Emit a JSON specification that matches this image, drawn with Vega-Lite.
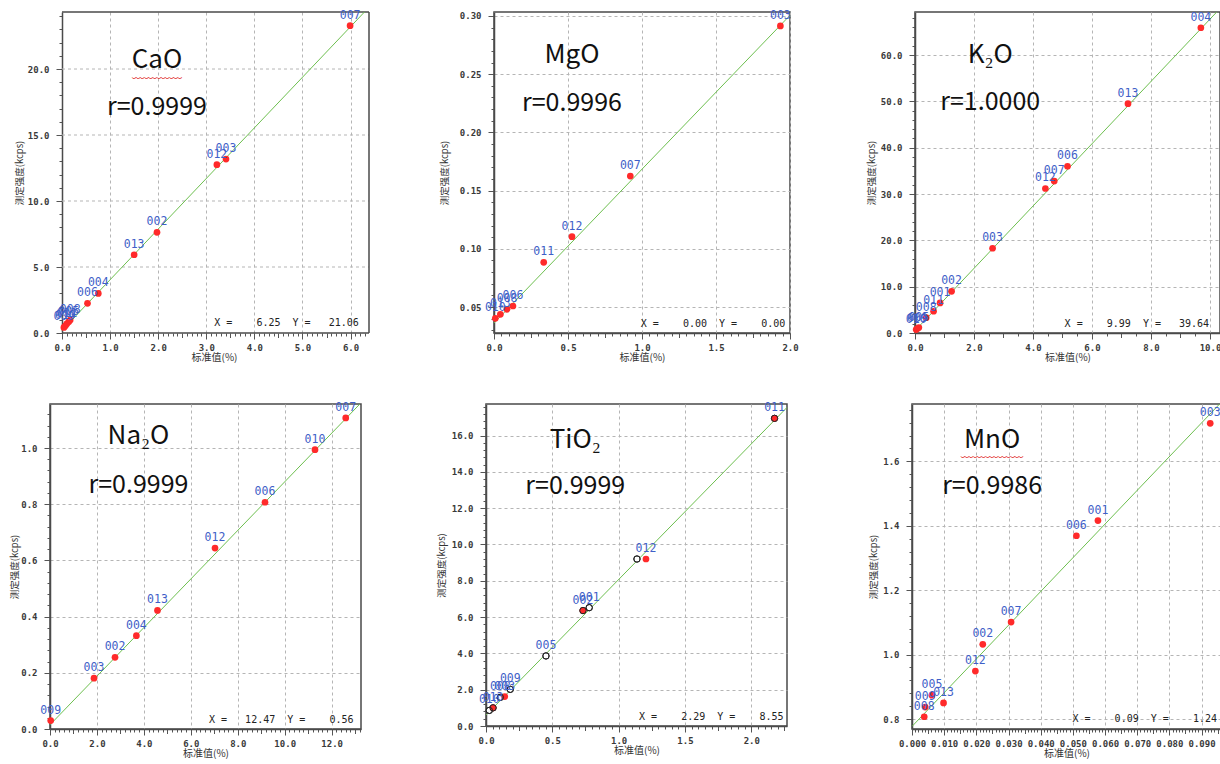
{
  "$schema": "https://vega.github.io/schema/vega-lite/v6.json",
  "background": "white",
  "padding": {"left": 8, "top": 9, "right": 0, "bottom": 0},
  "datasets": {
    "cao": [
      {"id": "007", "x": 5.99, "y": 23.28},
      {"id": "003", "x": 3.41, "y": 13.18},
      {"id": "012", "x": 3.22, "y": 12.75},
      {"id": "002", "x": 1.975, "y": 7.63},
      {"id": "013", "x": 1.5, "y": 5.93},
      {"id": "004", "x": 0.755, "y": 3.0},
      {"id": "006", "x": 0.53, "y": 2.25},
      {"id": "009", "x": 0.04, "y": 0.42},
      {"id": "010", "x": 0.07, "y": 0.55},
      {"id": "011", "x": 0.1, "y": 0.7},
      {"id": "005", "x": 0.14, "y": 0.85},
      {"id": "008", "x": 0.17, "y": 0.98}
    ],
    "cao_fit": [{"x": 0, "y": 0.2}, {"x": 6.5, "y": 25.13}],
    "mgo": [
      {"id": "003", "x": 1.935, "y": 0.2914},
      {"id": "007", "x": 0.921, "y": 0.1625},
      {"id": "012", "x": 0.527, "y": 0.1104},
      {"id": "011", "x": 0.336, "y": 0.0884},
      {"id": "010", "x": 0.009, "y": 0.0403},
      {"id": "013", "x": 0.043, "y": 0.0437},
      {"id": "008", "x": 0.088, "y": 0.048},
      {"id": "006", "x": 0.128, "y": 0.0509}
    ],
    "mgo_fit": [{"x": 0, "y": 0.0362}, {"x": 2.1, "y": 0.3138}],
    "k2o": [
      {"id": "004", "x": 9.69, "y": 65.9},
      {"id": "013", "x": 7.22, "y": 49.5},
      {"id": "006", "x": 5.17, "y": 36.0},
      {"id": "007", "x": 4.72, "y": 32.8},
      {"id": "012", "x": 4.42, "y": 31.2},
      {"id": "003", "x": 2.63, "y": 18.3},
      {"id": "002", "x": 1.24, "y": 9.0},
      {"id": "001", "x": 0.85, "y": 6.5},
      {"id": "011", "x": 0.63, "y": 4.7},
      {"id": "008", "x": 0.38, "y": 3.3},
      {"id": "010", "x": 0.04, "y": 0.73},
      {"id": "009", "x": 0.08, "y": 0.95},
      {"id": "005", "x": 0.13, "y": 1.17}
    ],
    "k2o_fit": [{"x": 0, "y": 0.5}, {"x": 10.6, "y": 71.8}],
    "na2o": [
      {"id": "007", "x": 12.6, "y": 1.107},
      {"id": "010", "x": 11.29, "y": 0.994},
      {"id": "006", "x": 9.16, "y": 0.807},
      {"id": "012", "x": 7.03, "y": 0.644},
      {"id": "013", "x": 4.58, "y": 0.422},
      {"id": "004", "x": 3.68, "y": 0.332},
      {"id": "002", "x": 2.77, "y": 0.255},
      {"id": "003", "x": 1.875, "y": 0.181},
      {"id": "009", "x": 0.03, "y": 0.03}
    ],
    "na2o_fit": [{"x": 0, "y": 0.015}, {"x": 13.6, "y": 1.191}],
    "tio2": [
      {"s": "o", "lab": "", "x": 2.175, "y": 16.95},
      {"s": "o", "lab": "", "x": 1.138, "y": 9.2},
      {"s": "o", "lab": "001", "x": 0.778, "y": 6.52},
      {"s": "o", "lab": "", "x": 0.731, "y": 6.36},
      {"s": "o", "lab": "005", "x": 0.452, "y": 3.86},
      {"s": "o", "lab": "009", "x": 0.183, "y": 2.02},
      {"s": "o", "lab": "008", "x": 0.108, "y": 1.58},
      {"s": "o", "lab": "", "x": 0.053, "y": 1.0},
      {"s": "o", "lab": "010", "x": 0.025, "y": 0.86},
      {"s": "r", "lab": "011", "x": 2.175, "y": 16.95},
      {"s": "r", "lab": "012", "x": 1.206, "y": 9.2},
      {"s": "r", "lab": "002", "x": 0.731, "y": 6.36},
      {"s": "r", "lab": "003", "x": 0.141, "y": 1.62},
      {"s": "r", "lab": "013", "x": 0.053, "y": 1.0}
    ],
    "tio2_fit": [{"x": 0, "y": 0.6}, {"x": 2.4, "y": 18.53}],
    "mno": [
      {"id": "003", "x": 0.0927, "y": 1.718},
      {"id": "001", "x": 0.0578, "y": 1.416},
      {"id": "006", "x": 0.0511, "y": 1.369},
      {"id": "007", "x": 0.0308, "y": 1.101},
      {"id": "002", "x": 0.022, "y": 1.032},
      {"id": "012", "x": 0.0197, "y": 0.949},
      {"id": "013", "x": 0.0098, "y": 0.85},
      {"id": "005", "x": 0.0062, "y": 0.874},
      {"id": "009", "x": 0.0041, "y": 0.837},
      {"id": "008", "x": 0.0038, "y": 0.807}
    ],
    "mno_fit": [{"x": 0, "y": 0.777}, {"x": 0.1, "y": 1.824}]
  },
  "spacing": 38,
  "vconcat": [
    {
      "hconcat": [
        {
          "width": 319, "height": 321,
          "view": {"stroke": null},
          "data": {"name": "cao"},
          "encoding": {
            "x": {"field": "x", "type": "quantitative",
              "scale": {"domain": [-0.2495, 6.383], "nice": false, "zero": false},
              "axis": {"title": "标准值(%)", "domain": false, "titleX": 164,
                "values": [0,0.1,0.2,0.3,0.4,0.5,0.6,0.7,0.8,0.9,1,1.1,1.2,1.3,1.4,1.5,1.6,1.7,1.8,1.9,2,2.1,2.2,2.3,2.4,2.5,2.6,2.7,2.8,2.9,3,3.1,3.2,3.3,3.4,3.5,3.6,3.7,3.8,3.9,4,4.1,4.2,4.3,4.4,4.5,4.6,4.7,4.8,4.9,5,5.1,5.2,5.3,5.4,5.5,5.6,5.7,5.8,5.9,6,6.1,6.2,6.3],
                "labelExpr": "abs(datum.value-round(datum.value))<1e-6 ? format(datum.value,'.1f') : ''",
                "tickSize": {"condition": [{"test": "abs(datum.value-round(datum.value))<1e-6", "value": 6}, {"test": "abs(datum.value*2-round(datum.value*2))<1e-6", "value": 4.5}], "value": 3},
                "gridOpacity": {"condition": {"test": "abs(datum.value-round(datum.value))<1e-6 && datum.value > 0", "value": 1}, "value": 0}}},
            "y": {"field": "y", "type": "quantitative",
              "scale": {"domain": [0, 24.32], "nice": false, "zero": false},
              "axis": {"title": "测定强度(kcps)", "offset": -12, "grid": false,
                "values": [0,1,2,3,4,5,6,7,8,9,10,11,12,13,14,15,16,17,18,19,20,21,22,23,24],
                "labelExpr": "abs(datum.value/5-round(datum.value/5))<1e-6 ? format(datum.value,'.1f') : ''",
                "tickSize": {"condition": {"test": "abs(datum.value/5-round(datum.value/5))<1e-6", "value": 6}, "value": 3},
                "minExtent": 34, "maxExtent": 34, "titlePadding": 4}}
          },
          "layer": [
            {"transform": [{"filter": "datum.id == '007'"}], "mark": {"type": "rule", "color": "#b5b5b5", "strokeWidth": 1, "strokeDash": [3, 3]}, "encoding": {"x": {"datum": 0, "type": "quantitative"}, "x2": {"datum": 6.383}, "y": {"datum": 5, "type": "quantitative"}}},
            {"transform": [{"filter": "datum.id == '007'"}], "mark": {"type": "rule", "color": "#b5b5b5", "strokeWidth": 1, "strokeDash": [3, 3]}, "encoding": {"x": {"datum": 0, "type": "quantitative"}, "x2": {"datum": 6.383}, "y": {"datum": 10, "type": "quantitative"}}},
            {"transform": [{"filter": "datum.id == '007'"}], "mark": {"type": "rule", "color": "#b5b5b5", "strokeWidth": 1, "strokeDash": [3, 3]}, "encoding": {"x": {"datum": 0, "type": "quantitative"}, "x2": {"datum": 6.383}, "y": {"datum": 15, "type": "quantitative"}}},
            {"transform": [{"filter": "datum.id == '007'"}], "mark": {"type": "rule", "color": "#b5b5b5", "strokeWidth": 1, "strokeDash": [3, 3]}, "encoding": {"x": {"datum": 0, "type": "quantitative"}, "x2": {"datum": 6.383}, "y": {"datum": 20, "type": "quantitative"}}},
            {"transform": [{"filter": "datum.id == '007'"}], "mark": {"type": "rule", "color": "#4a4a4a", "strokeWidth": 1.5}, "encoding": {"x": {"datum": 0, "type": "quantitative"}, "x2": {"datum": 6.383}, "y": {"datum": 0, "type": "quantitative"}}},
            {"transform": [{"filter": "datum.id == '007'"}], "mark": {"type": "rule", "color": "#4a4a4a", "strokeWidth": 1.5}, "encoding": {"x": {"datum": 0, "type": "quantitative"}, "x2": {"datum": 6.383}, "y": {"datum": 24.32, "type": "quantitative"}}},
            {"transform": [{"filter": "datum.id == '007'"}], "mark": {"type": "rule", "color": "#4a4a4a", "strokeWidth": 1.5}, "encoding": {"x": {"datum": 6.383, "type": "quantitative"}, "y": {"datum": 0, "type": "quantitative"}, "y2": {"datum": 24.32}}},
            {"data": {"name": "cao_fit"}, "mark": {"type": "line", "clip": true, "color": "#6dbf4f", "strokeWidth": 1}},
            {"mark": {"type": "circle", "size": 45, "color": "#ff2a2a", "opacity": 1}},
            {"mark": {"type": "text", "dy": -10, "color": "#3f5fc8", "font": "DejaVu Sans Mono", "fontSize": 11.5}, "encoding": {"text": {"field": "id"}}},
            {"transform": [{"filter": "datum.id == '007'"}], "mark": {"type": "text", "font": "Noto Sans CJK SC", "fontSize": 26, "color": "#111"}, "encoding": {"text": {"value": "CaO"}, "x": {"datum": 1.975, "type": "quantitative"}, "y": {"datum": 20.7, "type": "quantitative"}}},
            {"transform": [{"filter": "datum.id == '007'"}], "mark": {"type": "text", "font": "Noto Sans CJK SC", "fontSize": 12.5, "color": "#e02020"}, "encoding": {"text": {"value": "﹏﹏﹏﹏"}, "x": {"datum": 1.975, "type": "quantitative"}, "y": {"datum": 19.62, "type": "quantitative"}}},
            {"transform": [{"filter": "datum.id == '007'"}], "mark": {"type": "text", "font": "Noto Sans CJK SC", "fontSize": 25, "color": "#111"}, "encoding": {"text": {"value": "r=0.9999"}, "x": {"datum": 1.975, "type": "quantitative"}, "y": {"datum": 17.1, "type": "quantitative"}}},
            {"transform": [{"filter": "datum.id == '007'"}], "mark": {"type": "text", "align": "right", "font": "DejaVu Sans Mono", "fontSize": 10, "color": "#222"}, "encoding": {"text": {"value": "X =\u00a0\u00a0\u00a0\u00a06.25\u00a0\u00a0Y =\u00a0\u00a0\u00a021.06"}, "x": {"datum": 6.17, "type": "quantitative"}, "y": {"datum": 0.76, "type": "quantitative"}}}
          ]
        },
        {
          "width": 296, "height": 321,
          "data": {"name": "mgo"},
          "encoding": {
            "x": {"field": "x", "type": "quantitative",
              "scale": {"domain": [0, 2.0], "nice": false, "zero": false},
              "axis": {"title": "标准值(%)",
                "values": [0,0.05,0.1,0.15,0.2,0.25,0.3,0.35,0.4,0.45,0.5,0.55,0.6,0.65,0.7,0.75,0.8,0.85,0.9,0.95,1,1.05,1.1,1.15,1.2,1.25,1.3,1.35,1.4,1.45,1.5,1.55,1.6,1.65,1.7,1.75,1.8,1.85,1.9,1.95,2],
                "labelExpr": "abs(datum.value*2-round(datum.value*2))<1e-6 ? format(datum.value,'.1f') : ''",
                "tickSize": {"condition": [{"test": "abs(datum.value*2-round(datum.value*2))<1e-6", "value": 6}, {"test": "abs(datum.value*4-round(datum.value*4))<1e-6", "value": 4.5}], "value": 3},
                "gridOpacity": {"condition": {"test": "abs(datum.value*2-round(datum.value*2))<1e-6", "value": 1}, "value": 0}}},
            "y": {"field": "y", "type": "quantitative",
              "scale": {"domain": [0.0277, 0.3034], "nice": false, "zero": false},
              "axis": {"title": "测定强度(kcps)",
                "values": [0.03,0.04,0.05,0.06,0.07,0.08,0.09,0.1,0.11,0.12,0.13,0.14,0.15,0.16,0.17,0.18,0.19,0.2,0.21,0.22,0.23,0.24,0.25,0.26,0.27,0.28,0.29,0.3],
                "labelExpr": "abs(datum.value*20-round(datum.value*20))<1e-6 ? format(datum.value,'.2f') : ''",
                "tickSize": {"condition": {"test": "abs(datum.value*20-round(datum.value*20))<1e-6", "value": 6}, "value": 3},
                "gridOpacity": {"condition": {"test": "abs(datum.value*20-round(datum.value*20))<1e-6", "value": 1}, "value": 0},
                "minExtent": 35, "maxExtent": 35, "titlePadding": 9.5}}
          },
          "layer": [
            {"data": {"name": "mgo_fit"}, "mark": {"type": "line", "clip": true, "color": "#6dbf4f", "strokeWidth": 1}},
            {"mark": {"type": "circle", "size": 45, "color": "#ff2a2a", "opacity": 1}},
            {"mark": {"type": "text", "dy": -10, "color": "#3f5fc8", "font": "DejaVu Sans Mono", "fontSize": 11.5}, "encoding": {"text": {"field": "id"}}},
            {"transform": [{"filter": "datum.id == '003'"}], "mark": {"type": "text", "font": "Noto Sans CJK SC", "fontSize": 26, "color": "#111"}, "encoding": {"text": {"value": "MgO"}, "x": {"datum": 0.527, "type": "quantitative"}, "y": {"datum": 0.2665, "type": "quantitative"}}},
            {"transform": [{"filter": "datum.id == '003'"}], "mark": {"type": "text", "font": "Noto Sans CJK SC", "fontSize": 25, "color": "#111"}, "encoding": {"text": {"value": "r=0.9996"}, "x": {"datum": 0.527, "type": "quantitative"}, "y": {"datum": 0.225, "type": "quantitative"}}},
            {"transform": [{"filter": "datum.id == '003'"}], "mark": {"type": "text", "align": "right", "font": "DejaVu Sans Mono", "fontSize": 10, "color": "#222"}, "encoding": {"text": {"value": "X =\u00a0\u00a0\u00a0\u00a00.00\u00a0\u00a0Y =\u00a0\u00a0\u00a0\u00a00.00"}, "x": {"datum": 1.968, "type": "quantitative"}, "y": {"datum": 0.0351, "type": "quantitative"}}}
          ]
        },
        {
          "width": 305, "height": 321,
          "data": {"name": "k2o"},
          "encoding": {
            "x": {"field": "x", "type": "quantitative",
              "scale": {"domain": [0, 10.339], "nice": false, "zero": false},
              "axis": {"title": "标准值(%)",
                "values": [0,0.5,1,1.5,2,2.5,3,3.5,4,4.5,5,5.5,6,6.5,7,7.5,8,8.5,9,9.5,10],
                "labelExpr": "abs(datum.value/2-round(datum.value/2))<1e-6 ? format(datum.value,'.1f') : ''",
                "tickSize": {"condition": [{"test": "abs(datum.value/2-round(datum.value/2))<1e-6", "value": 6}, {"test": "abs(datum.value-round(datum.value))<1e-6", "value": 4.5}], "value": 3},
                "gridOpacity": {"condition": {"test": "abs(datum.value/2-round(datum.value/2))<1e-6", "value": 1}, "value": 0}}},
            "y": {"field": "y", "type": "quantitative",
              "scale": {"domain": [0, 69.3], "nice": false, "zero": false},
              "axis": {"title": "测定强度(kcps)",
                "values": [0,2,4,6,8,10,12,14,16,18,20,22,24,26,28,30,32,34,36,38,40,42,44,46,48,50,52,54,56,58,60,62,64,66,68],
                "labelExpr": "abs(datum.value/10-round(datum.value/10))<1e-6 ? format(datum.value,'.1f') : ''",
                "tickSize": {"condition": {"test": "abs(datum.value/10-round(datum.value/10))<1e-6", "value": 6}, "value": 3},
                "gridOpacity": {"condition": {"test": "abs(datum.value/10-round(datum.value/10))<1e-6", "value": 1}, "value": 0},
                "minExtent": 35, "maxExtent": 35, "titlePadding": 4}}
          },
          "layer": [
            {"data": {"name": "k2o_fit"}, "mark": {"type": "line", "clip": true, "color": "#6dbf4f", "strokeWidth": 1}},
            {"mark": {"type": "circle", "size": 45, "color": "#ff2a2a", "opacity": 1}},
            {"mark": {"type": "text", "dy": -10, "color": "#3f5fc8", "font": "DejaVu Sans Mono", "fontSize": 11.5}, "encoding": {"text": {"field": "id"}}},
            {"transform": [{"filter": "datum.id == '004'"}], "mark": {"type": "text", "font": "Noto Sans CJK SC", "fontSize": 26, "color": "#111"}, "encoding": {"text": {"value": "K₂O"}, "x": {"datum": 2.55, "type": "quantitative"}, "y": {"datum": 60.0, "type": "quantitative"}}},
            {"transform": [{"filter": "datum.id == '004'"}], "mark": {"type": "text", "font": "Noto Sans CJK SC", "fontSize": 25, "color": "#111"}, "encoding": {"text": {"value": "r=1.0000"}, "x": {"datum": 2.55, "type": "quantitative"}, "y": {"datum": 49.9, "type": "quantitative"}}},
            {"transform": [{"filter": "datum.id == '004'"}], "mark": {"type": "text", "align": "right", "font": "DejaVu Sans Mono", "fontSize": 10, "color": "#222"}, "encoding": {"text": {"value": "X =\u00a0\u00a0\u00a0\u00a09.99\u00a0\u00a0Y =\u00a0\u00a0\u00a039.64"}, "x": {"datum": 9.97, "type": "quantitative"}, "y": {"datum": 2.0, "type": "quantitative"}}}
          ]
        }
      ],
      "spacing": 125,
      "bounds": "flush"
    },
    {
      "hconcat": [
        {
          "width": 311, "height": 325,
          "data": {"name": "na2o"},
          "encoding": {
            "x": {"field": "x", "type": "quantitative",
              "scale": {"domain": [0, 13.25], "nice": false, "zero": false},
              "axis": {"title": "标准值(%)",
                "values": [0,0.2,0.4,0.6,0.8,1,1.2,1.4,1.6,1.8,2,2.2,2.4,2.6,2.8,3,3.2,3.4,3.6,3.8,4,4.2,4.4,4.6,4.8,5,5.2,5.4,5.6,5.8,6,6.2,6.4,6.6,6.8,7,7.2,7.4,7.6,7.8,8,8.2,8.4,8.6,8.8,9,9.2,9.4,9.6,9.8,10,10.2,10.4,10.6,10.8,11,11.2,11.4,11.6,11.8,12,12.2,12.4,12.6,12.8,13,13.2],
                "labelExpr": "abs(datum.value/2-round(datum.value/2))<1e-6 ? format(datum.value,'.1f') : ''",
                "tickSize": {"condition": [{"test": "abs(datum.value/2-round(datum.value/2))<1e-6", "value": 6}, {"test": "abs(datum.value-round(datum.value))<1e-6", "value": 4.5}], "value": 3},
                "gridOpacity": {"condition": {"test": "abs(datum.value/2-round(datum.value/2))<1e-6", "value": 1}, "value": 0}}},
            "y": {"field": "y", "type": "quantitative",
              "scale": {"domain": [0, 1.1566], "nice": false, "zero": false},
              "axis": {"title": "测定强度(kcps)",
                "values": [0,0.04,0.08,0.12,0.16,0.2,0.24,0.28,0.32,0.36,0.4,0.44,0.48,0.52,0.56,0.6,0.64,0.68,0.72,0.76,0.8,0.84,0.88,0.92,0.96,1,1.04,1.08,1.12],
                "labelExpr": "abs(datum.value*5-round(datum.value*5))<1e-6 ? format(datum.value,'.1f') : ''",
                "tickSize": {"condition": {"test": "abs(datum.value*5-round(datum.value*5))<1e-6", "value": 6}, "value": 3},
                "gridOpacity": {"condition": {"test": "abs(datum.value*5-round(datum.value*5))<1e-6", "value": 1}, "value": 0},
                "minExtent": 28, "maxExtent": 28, "titlePadding": 3}}
          },
          "layer": [
            {"data": {"name": "na2o_fit"}, "mark": {"type": "line", "clip": true, "color": "#6dbf4f", "strokeWidth": 1}},
            {"mark": {"type": "circle", "size": 45, "color": "#ff2a2a", "opacity": 1}},
            {"mark": {"type": "text", "dy": -10, "color": "#3f5fc8", "font": "DejaVu Sans Mono", "fontSize": 11.5}, "encoding": {"text": {"field": "id"}}},
            {"transform": [{"filter": "datum.id == '007'"}], "mark": {"type": "text", "font": "Noto Sans CJK SC", "fontSize": 26, "color": "#111"}, "encoding": {"text": {"value": "Na₂O"}, "x": {"datum": 3.77, "type": "quantitative"}, "y": {"datum": 1.042, "type": "quantitative"}}},
            {"transform": [{"filter": "datum.id == '007'"}], "mark": {"type": "text", "font": "Noto Sans CJK SC", "fontSize": 25, "color": "#111"}, "encoding": {"text": {"value": "r=0.9999"}, "x": {"datum": 3.77, "type": "quantitative"}, "y": {"datum": 0.869, "type": "quantitative"}}},
            {"transform": [{"filter": "datum.id == '007'"}], "mark": {"type": "text", "align": "right", "font": "DejaVu Sans Mono", "fontSize": 10, "color": "#222"}, "encoding": {"text": {"value": "X =\u00a0\u00a0\u00a012.47\u00a0\u00a0Y =\u00a0\u00a0\u00a0\u00a00.56"}, "x": {"datum": 12.93, "type": "quantitative"}, "y": {"datum": 0.033, "type": "quantitative"}}}
          ]
        },
        {
          "width": 301, "height": 322,
          "data": {"name": "tio2"},
          "encoding": {
            "x": {"field": "x", "type": "quantitative",
              "scale": {"domain": [0, 2.269], "nice": false, "zero": false},
              "axis": {"title": "标准值(%)",
                "values": [0,0.05,0.1,0.15,0.2,0.25,0.3,0.35,0.4,0.45,0.5,0.55,0.6,0.65,0.7,0.75,0.8,0.85,0.9,0.95,1,1.05,1.1,1.15,1.2,1.25,1.3,1.35,1.4,1.45,1.5,1.55,1.6,1.65,1.7,1.75,1.8,1.85,1.9,1.95,2,2.05,2.1,2.15,2.2,2.25],
                "labelExpr": "abs(datum.value*2-round(datum.value*2))<1e-6 ? format(datum.value,'.1f') : ''",
                "tickSize": {"condition": [{"test": "abs(datum.value*2-round(datum.value*2))<1e-6", "value": 6}, {"test": "abs(datum.value*4-round(datum.value*4))<1e-6", "value": 4.5}], "value": 3},
                "gridOpacity": {"condition": {"test": "abs(datum.value*2-round(datum.value*2))<1e-6", "value": 1}, "value": 0}}},
            "y": {"field": "y", "type": "quantitative",
              "scale": {"domain": [0, 17.74], "nice": false, "zero": false},
              "axis": {"title": "测定强度(kcps)",
                "values": [0,0.4,0.8,1.2,1.6,2,2.4,2.8,3.2,3.6,4,4.4,4.8,5.2,5.6,6,6.4,6.8,7.2,7.6,8,8.4,8.8,9.2,9.6,10,10.4,10.8,11.2,11.6,12,12.4,12.8,13.2,13.6,14,14.4,14.8,15.2,15.6,16,16.4,16.8,17.2,17.6],
                "labelExpr": "abs(datum.value/2-round(datum.value/2))<1e-6 ? format(datum.value,'.1f') : ''",
                "tickSize": {"condition": {"test": "abs(datum.value/2-round(datum.value/2))<1e-6", "value": 6}, "value": 3},
                "gridOpacity": {"condition": {"test": "abs(datum.value/2-round(datum.value/2))<1e-6", "value": 1}, "value": 0},
                "minExtent": 34, "maxExtent": 34, "titlePadding": 5.5}}
          },
          "layer": [
            {"data": {"name": "tio2_fit"}, "mark": {"type": "line", "clip": true, "color": "#6dbf4f", "strokeWidth": 1}},
            {"transform": [{"filter": "datum.s == 'o'"}], "mark": {"type": "point", "shape": "circle", "filled": true, "fill": "white", "stroke": "#222", "strokeWidth": 1, "size": 40, "opacity": 1}},
            {"transform": [{"filter": "datum.s == 'r'"}], "mark": {"type": "circle", "size": 45, "color": "#ff2a2a", "opacity": 1}},
            {"transform": [{"filter": "datum.s == 'o'"}], "mark": {"type": "point", "shape": "circle", "filled": false, "stroke": "#222", "strokeWidth": 1, "size": 40, "opacity": 1}},
            {"mark": {"type": "text", "dy": -10, "color": "#3f5fc8", "font": "DejaVu Sans Mono", "fontSize": 11.5}, "encoding": {"text": {"field": "lab"}}},
            {"transform": [{"filter": "datum.lab == '011'"}], "mark": {"type": "text", "font": "Noto Sans CJK SC", "fontSize": 26, "color": "#111"}, "encoding": {"text": {"value": "TiO₂"}, "x": {"datum": 0.673, "type": "quantitative"}, "y": {"datum": 15.75, "type": "quantitative"}}},
            {"transform": [{"filter": "datum.lab == '011'"}], "mark": {"type": "text", "font": "Noto Sans CJK SC", "fontSize": 25, "color": "#111"}, "encoding": {"text": {"value": "r=0.9999"}, "x": {"datum": 0.673, "type": "quantitative"}, "y": {"datum": 13.2, "type": "quantitative"}}},
            {"transform": [{"filter": "datum.lab == '011'"}], "mark": {"type": "text", "align": "right", "font": "DejaVu Sans Mono", "fontSize": 10, "color": "#222"}, "encoding": {"text": {"value": "X =\u00a0\u00a0\u00a0\u00a02.29\u00a0\u00a0Y =\u00a0\u00a0\u00a0\u00a08.55"}, "x": {"datum": 2.243, "type": "quantitative"}, "y": {"datum": 0.52, "type": "quantitative"}}}
          ]
        },
        {
          "width": 309, "height": 325,
          "data": {"name": "mno"},
          "encoding": {
            "x": {"field": "x", "type": "quantitative",
              "scale": {"domain": [0, 0.09605], "nice": false, "zero": false},
              "axis": {"title": "标准值(%)",
                "values": [0,0.001,0.002,0.003,0.004,0.005,0.006,0.007,0.008,0.009,0.01,0.011,0.012,0.013,0.014,0.015,0.016,0.017,0.018,0.019,0.02,0.021,0.022,0.023,0.024,0.025,0.026,0.027,0.028,0.029,0.03,0.031,0.032,0.033,0.034,0.035,0.036,0.037,0.038,0.039,0.04,0.041,0.042,0.043,0.044,0.045,0.046,0.047,0.048,0.049,0.05,0.051,0.052,0.053,0.054,0.055,0.056,0.057,0.058,0.059,0.06,0.061,0.062,0.063,0.064,0.065,0.066,0.067,0.068,0.069,0.07,0.071,0.072,0.073,0.074,0.075,0.076,0.077,0.078,0.079,0.08,0.081,0.082,0.083,0.084,0.085,0.086,0.087,0.088,0.089,0.09,0.091,0.092,0.093,0.094,0.095,0.096],
                "labelExpr": "abs(datum.value*100-round(datum.value*100))<1e-6 ? format(datum.value,'.3f') : ''",
                "tickSize": {"condition": [{"test": "abs(datum.value*100-round(datum.value*100))<1e-6", "value": 6}, {"test": "abs(datum.value*200-round(datum.value*200))<1e-6", "value": 4.5}], "value": 3},
                "gridOpacity": {"condition": {"test": "abs(datum.value*100-round(datum.value*100))<1e-6", "value": 1}, "value": 0}}},
            "y": {"field": "y", "type": "quantitative",
              "scale": {"domain": [0.769, 1.778], "nice": false, "zero": false},
              "axis": {"title": "测定强度(kcps)",
                "values": [0.8,0.84,0.88,0.92,0.96,1,1.04,1.08,1.12,1.16,1.2,1.24,1.28,1.32,1.36,1.4,1.44,1.48,1.52,1.56,1.6,1.64,1.68,1.72,1.76],
                "labelExpr": "abs(datum.value*5-round(datum.value*5))<1e-6 ? format(datum.value,'.1f') : ''",
                "tickSize": {"condition": {"test": "abs(datum.value*5-round(datum.value*5))<1e-6", "value": 6}, "value": 3},
                "gridOpacity": {"condition": {"test": "abs(datum.value*5-round(datum.value*5))<1e-6", "value": 1}, "value": 0},
                "minExtent": 30, "maxExtent": 30, "titlePadding": 4}}
          },
          "layer": [
            {"data": {"name": "mno_fit"}, "mark": {"type": "line", "clip": true, "color": "#6dbf4f", "strokeWidth": 1}},
            {"mark": {"type": "circle", "size": 45, "color": "#ff2a2a", "opacity": 1}},
            {"mark": {"type": "text", "dy": -10, "color": "#3f5fc8", "font": "DejaVu Sans Mono", "fontSize": 11.5}, "encoding": {"text": {"field": "id"}}},
            {"transform": [{"filter": "datum.id == '003'"}], "mark": {"type": "text", "font": "Noto Sans CJK SC", "fontSize": 26, "color": "#111"}, "encoding": {"text": {"value": "MnO"}, "x": {"datum": 0.0249, "type": "quantitative"}, "y": {"datum": 1.667, "type": "quantitative"}}},
            {"transform": [{"filter": "datum.id == '003'"}], "mark": {"type": "text", "font": "Noto Sans CJK SC", "fontSize": 12.5, "color": "#e02020"}, "encoding": {"text": {"value": "﹏﹏﹏﹏﹏"}, "x": {"datum": 0.0249, "type": "quantitative"}, "y": {"datum": 1.626, "type": "quantitative"}}},
            {"transform": [{"filter": "datum.id == '003'"}], "mark": {"type": "text", "font": "Noto Sans CJK SC", "fontSize": 25, "color": "#111"}, "encoding": {"text": {"value": "r=0.9986"}, "x": {"datum": 0.0249, "type": "quantitative"}, "y": {"datum": 1.522, "type": "quantitative"}}},
            {"transform": [{"filter": "datum.id == '003'"}], "mark": {"type": "text", "align": "right", "font": "DejaVu Sans Mono", "fontSize": 10, "color": "#222"}, "encoding": {"text": {"value": "X =\u00a0\u00a0\u00a0\u00a00.09\u00a0\u00a0Y =\u00a0\u00a0\u00a0\u00a01.24"}, "x": {"datum": 0.0948, "type": "quantitative"}, "y": {"datum": 0.8, "type": "quantitative"}}}
          ]
        }
      ],
      "spacing": 125,
      "bounds": "flush"
    }
  ],
  "config": {
    "view": {"stroke": "#4a4a4a", "strokeWidth": 1.5},
    "axis": {"domainColor": "#4a4a4a", "domainWidth": 1.5, "tickColor": "#555", "tickWidth": 1, "labelFont": "DejaVu Sans Mono", "labelFontSize": 9, "labelFontWeight": "bold", "labelColor": "#3a3a3a", "gridColor": "#b5b5b5", "gridDash": [3, 3], "gridWidth": 1, "titleFont": "Noto Sans CJK SC", "titleFontWeight": "normal", "titleColor": "#333", "labelOverlap": false, "labelFlush": false, "labelBound": false},
    "axisX": {"labelPadding": 4, "titlePadding": 0, "titleFontSize": 10},
    "axisY": {"labelPadding": 7, "titleFontSize": 9.5},
    "text": {"baseline": "middle"}
  }
}
